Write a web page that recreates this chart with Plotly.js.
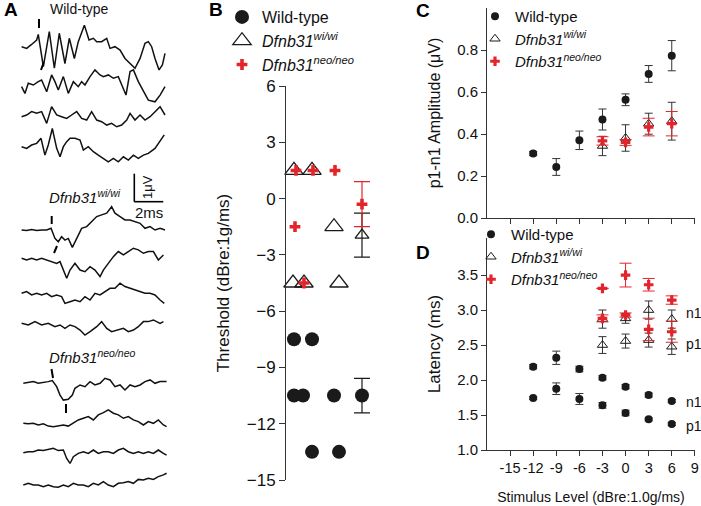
<!DOCTYPE html>
<html><head><meta charset="utf-8">
<script src="https://cdn.plot.ly/plotly-3.0.1.min.js"></script>
<style>html,body{margin:0;padding:0;background:#fff}#chart{width:701px;height:506px}</style>
</head><body><div id="chart"></div>
<script>
// ---------- Panel A: ABR waveforms (time in ms, amplitude in µV) ----------
const wt1_t = [0.11,0.46,0.80,1.15,1.26,1.61,2.02,2.37,2.71,3.10,3.40,3.75,4.02,4.44,4.76,5.06,5.29,5.63,5.98,6.21,6.55,6.90,7.24,7.59,7.93,8.28,8.62,8.85,9.08,9.31,9.59,9.82,10.0];
const wt1_v = [0,-0.06,0.08,0.24,0.44,-0.71,0.54,-0.77,0.48,-0.60,0.30,-0.42,0.18,0.77,0.24,0.30,0.18,0.18,0.30,-0.06,0,-0.12,-0.42,-0.60,-0.77,-0.42,0.12,0.18,0,-0.42,-0.83,-0.65,-0.24];
const wt2_t = [0.11,0.34,0.57,0.92,1.26,1.49,1.84,2.18,2.41,2.64,2.99,3.33,3.68,4.02,4.25,4.48,4.83,5.17,5.52,5.75,6.09,6.44,6.78,7.01,7.31,7.59,7.82,8.16,8.51,8.85,9.31,9.66,10.0];
const wt2_v = [-0.06,-0.30,0.06,0,0.12,0.18,-0.24,0.36,0.12,-0.18,0.30,-0.30,0.12,-0.06,0.12,0,0.30,0.54,0.36,0.30,0.36,0.24,0.30,0,-0.36,0.48,0.54,0.12,-0.24,-0.54,-0.60,-0.36,-0.06];
const wt3_t = [0.11,0.46,0.80,1.15,1.49,1.84,2.18,2.53,2.87,3.22,3.56,3.91,4.25,4.60,4.94,5.29,5.63,5.98,6.32,6.67,7.01,7.36,7.59,7.93,8.28,8.62,8.97,9.31,9.66,10.0];
const wt3_v = [-0.06,0,0.12,0.06,0.12,-0.30,0.30,0,-0.06,-0.12,0,0.12,-0.12,-0.18,0.12,-0.18,-0.24,-0.36,-0.30,-0.42,-0.36,-0.18,0.06,-0.18,0,-0.18,-0.06,0.12,0.30,0];
const wt4_t = [0.11,0.46,0.80,1.15,1.45,1.72,1.95,2.23,2.53,2.76,2.99,3.22,3.45,3.79,4.14,4.37,4.71,5.06,5.40,5.75,6.09,6.44,6.78,7.13,7.47,7.82,8.16,8.51,8.85,9.31,9.66,9.95];
const wt4_v = [0,-0.06,0.06,0.12,0.30,-0.30,0.06,0.65,-0.06,-0.36,0,0.18,0.30,0.30,0.24,-0.12,0,-0.18,-0.30,-0.42,-0.54,-0.42,-0.54,-0.36,-0.48,-0.30,-0.42,-0.30,-0.24,-0.06,0.18,0.42];
const wi1_t = [0.11,0.46,0.80,1.15,1.49,1.84,2.14,2.41,2.64,2.87,3.10,3.33,3.61,3.91,4.25,4.60,4.94,5.29,5.63,5.98,6.32,6.55,6.90,7.24,7.59,7.93,8.28,8.62,8.97,9.31,9.66,10.0];
const wi1_v = [0,-0.02,0.02,-0.02,0,0,0.06,-0.30,-0.42,-0.24,-0.36,-0.30,-0.62,-0.30,0.06,0.12,0.30,0.48,0.54,0.60,0.83,0.60,0.48,0.36,0.36,0.30,0.24,0.06,0.12,0,0.06,0];
const wi2_t = [0.11,0.46,0.80,1.15,1.49,1.84,2.18,2.53,2.76,2.99,3.22,3.45,3.79,4.14,4.48,4.83,5.17,5.52,5.75,6.09,6.44,6.78,7.13,7.47,7.82,8.16,8.51,8.85,9.20,9.54,9.89];
const wi2_v = [0,-0.06,0,-0.06,0,-0.06,-0.12,-0.18,-0.12,-0.42,-0.71,-0.42,-0.18,-0.42,-0.48,-0.30,-0.42,-0.65,-0.42,-0.18,0.06,0.24,0.12,0.24,0.36,0.30,0.18,0.24,0.24,-0.06,0.12];
const wi3_t = [0.11,0.46,0.80,1.15,1.49,1.84,2.18,2.53,2.87,3.10,3.45,3.79,4.14,4.48,4.83,5.17,5.52,5.86,6.21,6.55,6.90,7.24,7.59,7.93,8.28,8.62,8.97,9.31,9.66,9.95];
const wi3_v = [0,0.06,-0.06,0,-0.06,0,-0.12,-0.06,-0.12,-0.36,-0.30,-0.24,-0.30,-0.12,-0.24,0,-0.06,0.06,0.18,0.18,0.36,0.24,0.18,0.12,0.06,0,0,-0.06,-0.24,-0.36];
const wi4_t = [0.11,0.57,1.03,1.49,1.95,2.41,2.76,3.10,3.45,3.79,4.14,4.48,4.83,5.29,5.63,5.98,6.32,6.67,7.13,7.47,7.82,8.16,8.51,8.85,9.20,9.66,9.89];
const wi4_v = [0,-0.06,0.06,-0.06,0,-0.12,-0.06,-0.18,-0.06,-0.12,-0.24,-0.42,-0.30,-0.12,0.06,-0.18,-0.30,-0.24,-0.18,-0.30,-0.24,-0.12,0.06,0.06,0.12,0,0.06];
const neo1_t = [0.23,0.57,0.92,1.26,1.61,1.95,2.23,2.53,2.76,2.99,3.33,3.61,3.79,4.14,4.48,4.83,5.17,5.52,5.86,6.21,6.55,6.90,7.24,7.59,7.93,8.28,8.62,8.97,9.31,9.66,10.11];
const neo1_v = [0,0.02,0.06,0,0.02,0.06,0.10,-0.12,-0.42,-0.60,-0.57,-0.42,-0.18,-0.06,-0.12,0.06,-0.06,0,0.18,0.12,-0.12,-0.06,-0.24,-0.06,-0.12,-0.06,0.06,0.12,0,0.06,0.06];
const neo2_t = [0.23,0.57,0.92,1.26,1.61,1.95,2.30,2.64,2.99,3.33,3.68,4.02,4.37,4.71,5.06,5.40,5.75,6.09,6.44,6.78,7.13,7.47,7.82,8.16,8.51,8.85,9.20,9.54,9.89,10.11];
const neo2_v = [0,-0.02,0,-0.06,-0.02,-0.10,-0.12,-0.10,-0.06,-0.10,0.02,0.12,0.18,0.24,0.12,0.30,0.38,0.48,0.36,0.30,0.18,0.24,0.12,0.06,-0.06,0.06,0,0.12,-0.06,-0.12];
const neo3_t = [0.23,0.57,0.92,1.26,1.61,1.95,2.30,2.64,2.99,3.22,3.45,3.68,4.02,4.37,4.71,5.06,5.40,5.75,6.09,6.44,6.78,7.13,7.47,7.82,8.16,8.51,8.85,9.20,9.54,9.89,10.11];
const neo3_v = [-0.04,0,0,0.06,0.04,0.08,0.12,0.04,0.06,-0.24,-0.42,-0.18,-0.06,0,-0.06,0.06,-0.06,0,0,-0.06,0.06,0.12,0,-0.06,0,-0.06,0,-0.06,0.06,-0.06,-0.12];
const neo4_t = [0.23,0.57,0.92,1.26,1.61,1.95,2.30,2.64,2.99,3.33,3.68,4.02,4.37,4.71,5.06,5.40,5.75,6.09,6.44,6.78,7.13,7.47,7.82,8.16,8.51,8.85,9.20,9.54,9.89,10.11];
const neo4_v = [0,0.06,0,0,-0.06,0,-0.06,-0.08,0,-0.06,0.06,0,0,-0.06,0.06,0,0.12,0,-0.06,0.06,0.08,0.12,0.06,0.20,0.18,0.24,0.20,0.30,0.36,0.42];

// ---------- Panel B: thresholds (dBre:1g/ms) ----------
const bWtThr  = [-7.5,-7.5,-10.5,-10.5,-10.5,-13.5,-13.5];
const bWtSwarm = [8,26,8,17,48,26,53];
const bWiThr  = [1.5,1.5,-1.5,-4.5,-4.5,-4.5];
const bWiSwarm = [8,26,48,7,18,53];
const bNeoThr = [1.5,1.5,1.5,-1.5,-4.5];
const bNeoSwarm = [10,27,49,9,18];
const bMeanThr = [-10.5,-1.95,-0.3];   // WT, wi, neo
const bSemThr  = [0.92,1.17,1.2];

// ---------- Panel C: p1-n1 amplitude (µV) ----------
const levelsWt  = [-12,-9,-6,-3,0,3,6];
const levelsMut = [-3,0,3,6];
const ampWt     = [0.307,0.243,0.37,0.469,0.563,0.686,0.773];
const ampWtErr  = [0.01,0.04,0.044,0.05,0.028,0.04,0.072];
const ampWi     = [0.343,0.381,0.449,0.461];
const ampWiErr  = [0.046,0.063,0.05,0.09];
const ampNeo    = [0.367,0.36,0.433,0.449];
const ampNeoErr = [0.02,0.014,0.042,0.058];

// ---------- Panel D: latencies (ms) ----------
const latWtN1 = [2.19,2.318,2.157,2.033,1.905,1.786,1.70];
const latWtN1Err = [0.03,0.095,0.04,0.03,0.03,0.03,0.02];
const latWtP1 = [1.743,1.876,1.729,1.638,1.529,1.438,1.371];
const latWtP1Err = [0.02,0.083,0.078,0.04,0.04,0.02,0.02];
const latWiN1 = [2.871,2.881,3.0,2.871];
const latWiN1Err = [0.13,0.07,0.13,0.13];
const latWiP1 = [2.5,2.557,2.571,2.476];
const latWiP1Err = [0.12,0.1,0.1,0.11];
const latNeoN1 = [3.31,3.50,3.362,3.143];
const latNeoN1Err = [0.0,0.17,0.09,0.06];
const latNeoP1 = [2.881,2.929,2.724,2.69];
const latNeoP1Err = [0.05,0.03,0.16,0.15];

const xTicks = [-15,-12,-9,-6,-3,0,3,6,9];

// ---------- styling / layout helpers ----------
const W = 701, H = 506;
const FONT = 'Liberation Sans, Arial, Helvetica, sans-serif';
const RED = '#e3252b', BLK = '#1a1a1a', AX = '#333333', ERR = '#333333';
const px = x => x / W, py = y => 1 - y / H;

const data = [];

// Panel A traces
const aWaves = [[wt1_t,wt1_v],[wt2_t,wt2_v],[wt3_t,wt3_v],[wt4_t,wt4_v],
                [wi1_t,wi1_v],[wi2_t,wi2_v],[wi3_t,wi3_v],[wi4_t,wi4_v],
                [neo1_t,neo1_v],[neo2_t,neo2_v],[neo3_t,neo3_v],[neo4_t,neo4_v]];
const aBaselinePx = [46.7,85,115,146.7,230,258.3,293.3,323.3,383.3,423.3,451.7,485];
const PX_PER_UV = 28, PX_PER_MS = 14.5, A_X0 = 20, A_W = 175;
aWaves.forEach((w, i) => {
  data.push({type:'scatter', mode:'lines', x:w[0], y:w[1].map(v => v - aBaselinePx[i]/PX_PER_UV),
    xaxis:'x4', yaxis:'y4', line:{color:'#111', width:1.5}, showlegend:false, hoverinfo:'skip'});
});

// Panel B traces
const bMeanPos = 76;
data.push({type:'scatter', mode:'markers', x:bWtSwarm, y:bWtThr, xaxis:'x', yaxis:'y', name:'Wild-type',
  legend:'legend', marker:{symbol:'circle', size:14, color:BLK}, cliponaxis:false});
data.push({type:'scatter', mode:'markers', x:bWiSwarm, y:bWiThr, xaxis:'x', yaxis:'y', name:'<i>Dfnb31<sup>wi/wi</sup></i>',
  legend:'legend', marker:{symbol:'triangle-up-open', size:16, color:BLK, line:{width:1.3, color:BLK}}, cliponaxis:false});
data.push({type:'scatter', mode:'markers', x:bNeoSwarm, y:bNeoThr, xaxis:'x', yaxis:'y', name:'<i>Dfnb31<sup>neo/neo</sup></i>',
  legend:'legend', marker:{symbol:'cross', size:9, color:RED, line:{width:0}}, cliponaxis:false});
data.push({type:'scatter', mode:'markers', x:[bMeanPos], y:[bMeanThr[0]], xaxis:'x', yaxis:'y', showlegend:false,
  marker:{symbol:'circle', size:14, color:BLK}, error_y:{type:'data', array:[bSemThr[0]], color:BLK, thickness:1.2, width:8}, cliponaxis:false});
data.push({type:'scatter', mode:'markers', x:[bMeanPos], y:[bMeanThr[1]], xaxis:'x', yaxis:'y', showlegend:false,
  marker:{symbol:'triangle-up-open', size:12, color:BLK, line:{width:1.3, color:BLK}}, error_y:{type:'data', array:[bSemThr[1]], color:BLK, thickness:1.2, width:8}, cliponaxis:false});
data.push({type:'scatter', mode:'markers', x:[bMeanPos], y:[bMeanThr[2]], xaxis:'x', yaxis:'y', showlegend:false,
  marker:{symbol:'cross', size:9, color:RED, line:{width:0}}, error_y:{type:'data', array:[bSemThr[2]], color:RED, thickness:1.2, width:8}, cliponaxis:false});

// Panel C traces
data.push({type:'scatter', mode:'markers', x:levelsWt, y:ampWt, xaxis:'x2', yaxis:'y2', name:'Wild-type', legend:'legend2',
  marker:{symbol:'circle', size:8, color:BLK}, error_y:{type:'data', array:ampWtErr, color:ERR, thickness:1, width:4}});
data.push({type:'scatter', mode:'markers', x:levelsMut, y:ampWi, xaxis:'x2', yaxis:'y2', name:'<i>Dfnb31<sup>wi/wi</sup></i>', legend:'legend2',
  marker:{symbol:'triangle-up-open', size:9, color:BLK, line:{width:1, color:BLK}}, error_y:{type:'data', array:ampWiErr, color:ERR, thickness:1, width:4}});
data.push({type:'scatter', mode:'markers', x:levelsMut, y:ampNeo, xaxis:'x2', yaxis:'y2', name:'<i>Dfnb31<sup>neo/neo</sup></i>', legend:'legend2',
  marker:{symbol:'cross', size:8, color:RED, line:{width:0}}, error_y:{type:'data', array:ampNeoErr, color:RED, thickness:1, width:6}});

// Panel D traces
data.push({type:'scatter', mode:'markers', x:levelsWt, y:latWtN1, xaxis:'x3', yaxis:'y3', name:'Wild-type', legend:'legend3',
  marker:{symbol:'circle', size:8, color:BLK}, error_y:{type:'data', array:latWtN1Err, color:ERR, thickness:1, width:4}});
data.push({type:'scatter', mode:'markers', x:levelsMut, y:latWiN1, xaxis:'x3', yaxis:'y3', name:'<i>Dfnb31<sup>wi/wi</sup></i>', legend:'legend3',
  marker:{symbol:'triangle-up-open', size:9, color:BLK, line:{width:1, color:BLK}}, error_y:{type:'data', array:latWiN1Err, color:ERR, thickness:1, width:4}});
data.push({type:'scatter', mode:'markers', x:levelsMut, y:latNeoN1, xaxis:'x3', yaxis:'y3', name:'<i>Dfnb31<sup>neo/neo</sup></i>', legend:'legend3',
  marker:{symbol:'cross', size:8, color:RED, line:{width:0}}, error_y:{type:'data', array:latNeoN1Err, color:RED, thickness:1, width:6}});
data.push({type:'scatter', mode:'markers', x:levelsWt, y:latWtP1, xaxis:'x3', yaxis:'y3', showlegend:false, legend:'legend3',
  marker:{symbol:'circle', size:8, color:BLK}, error_y:{type:'data', array:latWtP1Err, color:ERR, thickness:1, width:4}});
data.push({type:'scatter', mode:'markers', x:levelsMut, y:latWiP1, xaxis:'x3', yaxis:'y3', showlegend:false, legend:'legend3',
  marker:{symbol:'triangle-up-open', size:9, color:BLK, line:{width:1, color:BLK}}, error_y:{type:'data', array:latWiP1Err, color:ERR, thickness:1, width:4}});
data.push({type:'scatter', mode:'markers', x:levelsMut, y:latNeoP1, xaxis:'x3', yaxis:'y3', showlegend:false, legend:'legend3',
  marker:{symbol:'cross', size:8, color:RED, line:{width:0}}, error_y:{type:'data', array:latNeoP1Err, color:RED, thickness:1, width:6}});

const tickFont = {family:FONT, size:15, color:'#111'};
const axCommon = {showline:true, linecolor:AX, linewidth:1, ticks:'outside', tickcolor:AX, ticklen:5, tickwidth:1,
  showgrid:false, zeroline:false, fixedrange:true, ticklabeloverflow:'allow'};

const scaleX = (134.3 - A_X0)/PX_PER_MS, scaleY = -201.7/PX_PER_UV;
const dash = (x0,y0,x1,y1) => ({type:'line', xref:'paper', yref:'paper', x0:px(x0), y0:py(y0), x1:px(x1), y1:py(y1), line:{color:'#000', width:2}});

const legendCommon = {xanchor:'left', yanchor:'top', bgcolor:'rgba(0,0,0,0)', borderwidth:0, itemsizing:'trace', tracegroupgap:0};

const layout = {
  width:W, height:H, margin:{l:0,r:0,t:0,b:0},
  paper_bgcolor:'#fff', plot_bgcolor:'rgba(0,0,0,0)',
  font:{family:FONT, color:'#111'},
  showlegend:true,
  // Panel B
  xaxis:{domain:[px(286), px(380)], range:[0,94], visible:false, anchor:'y', fixedrange:true},
  yaxis:Object.assign({}, axCommon, {domain:[py(480), py(86)], range:[-15,6], tickvals:[-15,-12,-9,-6,-3,0,3,6], ticklen:6,
    anchor:'x', tickfont:{family:FONT, size:17, color:'#111'},
    title:{text:'Threshold (dBre:1g/ms)', font:{family:FONT, size:17, color:'#111'}, standoff:12}}),
  // Panel C
  xaxis2:Object.assign({}, axCommon, {domain:[px(487), px(695)], range:[-18,9.02], tickvals:xTicks, showticklabels:false, anchor:'y2'}),
  yaxis2:Object.assign({}, axCommon, {domain:[py(218), py(8)], range:[0,1.0], tickvals:[0,0.2,0.4,0.6,0.8], tickformat:'.1f',
    anchor:'x2', tickfont:tickFont, title:{text:'p1-n1 Amplitude (μV)', font:{family:FONT, size:16, color:'#111'}, standoff:12}}),
  // Panel D
  xaxis3:Object.assign({}, axCommon, {domain:[px(487), px(695)], range:[-18,9.02], tickvals:xTicks, ticktext:xTicks.map(String),
    tickangle:0, anchor:'y3', tickfont:{family:FONT, size:14.5, color:'#111'},
    title:{text:'Stimulus Level (dBre:1.0g/ms)', font:{family:FONT, size:14, color:'#111'}, standoff:16}}),
  yaxis3:Object.assign({}, axCommon, {domain:[py(450), py(238)], range:[1,4.03], tickvals:[1,1.5,2,2.5,3,3.5], tickformat:'.1f',
    anchor:'x3', tickfont:tickFont, title:{text:'Latency (ms)', font:{family:FONT, size:17, color:'#111'}, standoff:12}}),
  // Panel A
  xaxis4:{domain:[0, px(A_W)], range:[-A_X0/PX_PER_MS, (A_W - A_X0)/PX_PER_MS], visible:false, anchor:'y4', fixedrange:true},
  yaxis4:{domain:[0,1], range:[-H/PX_PER_UV, 0], visible:false, anchor:'x4', fixedrange:true},
  legend:Object.assign({}, legendCommon, {x:px(222), y:1, font:{family:FONT, size:16, color:'#111'}}),
  legend2:Object.assign({}, legendCommon, {x:px(475), y:1, font:{family:FONT, size:15, color:'#111'}}),
  legend3:Object.assign({}, legendCommon, {x:px(471), y:py(218), font:{family:FONT, size:15, color:'#111'}}),
  shapes:[
    {type:'line', xref:'x4', yref:'y4', x0:scaleX, x1:scaleX, y0:scaleY, y1:scaleY + 1, line:{color:'#000', width:1.6}},
    {type:'line', xref:'x4', yref:'y4', x0:scaleX, x1:scaleX + 2, y0:scaleY, y1:scaleY, line:{color:'#000', width:1.6}},
    dash(39,19,39,28), dash(41,70,43.5,63),
    dash(51.7,216,51.7,224), dash(54,253,57,246),
    dash(51.5,369,53,378), dash(66,404,66,413)
  ],
  annotations:[
    {text:'<b>A</b>', x:px(2), y:py(-3), xref:'paper', yref:'paper', xanchor:'left', yanchor:'top', showarrow:false, font:{family:FONT, size:19, color:'#000'}},
    {text:'<b>B</b>', x:px(207), y:py(-3), xref:'paper', yref:'paper', xanchor:'left', yanchor:'top', showarrow:false, font:{family:FONT, size:19, color:'#000'}},
    {text:'<b>C</b>', x:px(414), y:py(-2), xref:'paper', yref:'paper', xanchor:'left', yanchor:'top', showarrow:false, font:{family:FONT, size:19, color:'#000'}},
    {text:'<b>D</b>', x:px(414), y:py(240), xref:'paper', yref:'paper', xanchor:'left', yanchor:'top', showarrow:false, font:{family:FONT, size:19, color:'#000'}},
    {text:'Wild-type', x:px(79), y:py(9), xref:'paper', yref:'paper', xanchor:'center', yanchor:'middle', showarrow:false, font:{family:FONT, size:14, color:'#111'}},
    {text:'<i>Dfnb31<sup>wi/wi</sup></i>', x:px(47), y:py(196), xref:'paper', yref:'paper', xanchor:'left', yanchor:'middle', showarrow:false, font:{family:FONT, size:15, color:'#111'}},
    {text:'<i>Dfnb31<sup>neo/neo</sup></i>', x:px(47), y:py(356), xref:'paper', yref:'paper', xanchor:'left', yanchor:'middle', showarrow:false, font:{family:FONT, size:15, color:'#111'}},
    {text:'1μV', x:px(147), y:py(187), xref:'paper', yref:'paper', xanchor:'center', yanchor:'middle', textangle:-90, showarrow:false, font:{family:FONT, size:13, color:'#111'}},
    {text:'2ms', x:px(149), y:py(212), xref:'paper', yref:'paper', xanchor:'center', yanchor:'middle', showarrow:false, font:{family:FONT, size:15, color:'#111'}},
    {text:'n1', x:7.6, y:2.96, xref:'x3', yref:'y3', xanchor:'left', yanchor:'middle', showarrow:false, font:{family:FONT, size:14, color:'#111'}},
    {text:'p1', x:7.6, y:2.51, xref:'x3', yref:'y3', xanchor:'left', yanchor:'middle', showarrow:false, font:{family:FONT, size:14, color:'#111'}},
    {text:'n1', x:7.6, y:1.69, xref:'x3', yref:'y3', xanchor:'left', yanchor:'middle', showarrow:false, font:{family:FONT, size:14, color:'#111'}},
    {text:'p1', x:7.6, y:1.34, xref:'x3', yref:'y3', xanchor:'left', yanchor:'middle', showarrow:false, font:{family:FONT, size:14, color:'#111'}}
  ]
};

Plotly.newPlot('chart', data, layout, {staticPlot:true, displayModeBar:false});
</script></body></html>
